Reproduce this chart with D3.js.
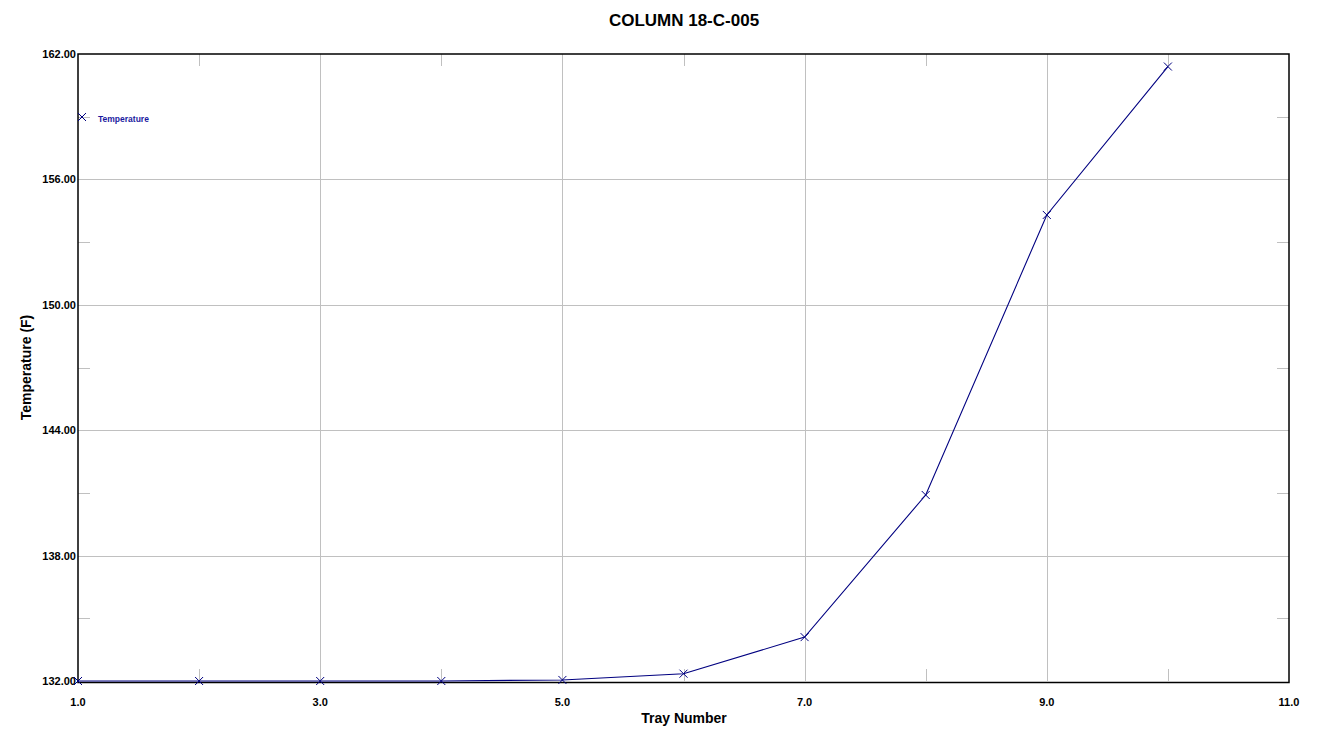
<!DOCTYPE html>
<html>
<head>
<meta charset="utf-8">
<script src="https://cdn.jsdelivr.net/npm/d3@7"></script>
<style>
  body { margin: 0; background: #fff; }
  text { font-family: Arial, "Liberation Sans", sans-serif; }
</style>
</head>
<body>
<script>
const width = 1337;
const height = 749;

// tray numbers and temperatures
const trays = [1, 2, 3, 4, 5, 6, 7, 8, 9, 10];
const temps = [132.0, 132.0, 132.0, 132.0, 132.05, 132.35, 134.1, 140.9, 154.3, 161.4];

const xMajor = [1, 3, 5, 7, 9, 11];
const xMinor = [2, 4, 6, 8, 10];
const yMajor = [132, 138, 144, 150, 156, 162];
const yMinor = [135, 141, 147, 153, 159];

const margin = {left: 78, right: 48, top: 54, bottom: 68};

const svg = d3.select("body").append("svg")
  .attr("width", width)
  .attr("height", height);

const x = d3.scaleLinear().domain([1, 11]).range([margin.left, width - margin.right]);
const y = d3.scaleLinear().domain([132, 162]).range([height - margin.bottom, margin.top]);

const grid = svg.append('g');
// full grid lines at the labelled ticks
grid.selectAll('.vgrid').data(xMajor.slice(1, -1)).enter().append('line')
  .attr('x1', d => Math.round(x(d)) + 0.5).attr('x2', d => Math.round(x(d)) + 0.5)
  .attr('y1', y(132)).attr('y2', y(162))
  .attr('stroke', '#c0c0c0');
grid.selectAll('.hgrid').data(yMajor.slice(1, -1)).enter().append('line')
  .attr('y1', d => Math.round(y(d)) + 0.5).attr('y2', d => Math.round(y(d)) + 0.5)
  .attr('x1', x(1)).attr('x2', x(11))
  .attr('stroke', '#c0c0c0');

// short minor ticks on each edge
const tick = 12;
xMinor.forEach(d => {
  const px = Math.round(x(d)) + 0.5;
  grid.append('line').attr('x1', px).attr('x2', px).attr('y1', y(132)).attr('y2', y(132) - tick).attr('stroke', '#c0c0c0');
  grid.append('line').attr('x1', px).attr('x2', px).attr('y1', y(162)).attr('y2', y(162) + tick).attr('stroke', '#c0c0c0');
});
yMinor.forEach(d => {
  const py = Math.round(y(d)) + 0.5;
  grid.append('line').attr('y1', py).attr('y2', py).attr('x1', x(1)).attr('x2', x(1) + tick).attr('stroke', '#c0c0c0');
  grid.append('line').attr('y1', py).attr('y2', py).attr('x1', x(11)).attr('x2', x(11) - tick).attr('stroke', '#c0c0c0');
});

// frame; its bottom edge sits just under the 132 line
svg.append('rect')
  .attr('x', x(1)).attr('y', y(162))
  .attr('width', x(11) - x(1)).attr('height', y(132) - y(162) + 1.5)
  .attr('fill', 'none').attr('stroke', '#000').attr('stroke-width', 1.5);

// tick labels
svg.selectAll('.xlab').data(xMajor).enter().append('text')
  .attr('x', d => x(d)).attr('y', y(132) + 25)
  .attr('text-anchor', 'middle')
  .attr('font-size', 11).attr('font-weight', 'bold')
  .text(d => d.toFixed(1));
svg.selectAll('.ylab').data(yMajor).enter().append('text')
  .attr('x', x(1) - 2).attr('y', d => y(d) + 4)
  .attr('text-anchor', 'end')
  .attr('font-size', 11).attr('font-weight', 'bold')
  .text(d => d.toFixed(2));

// titles
svg.append('text').attr('x', 684).attr('y', 26)
  .attr('text-anchor', 'middle').attr('font-size', 17).attr('font-weight', 'bold')
  .text('COLUMN 18-C-005');
svg.append('text').attr('x', 684).attr('y', 723)
  .attr('text-anchor', 'middle').attr('font-size', 14).attr('font-weight', 'bold')
  .text('Tray Number');
svg.append('text')
  .attr('transform', `translate(31, ${(y(132) + y(162)) / 2}) rotate(-90)`)
  .attr('text-anchor', 'middle').attr('font-size', 14).attr('font-weight', 'bold')
  .text('Temperature (F)');

// series
const color = '#000080';
const pts = trays.map((t, i) => [t, temps[i]]);
const line = d3.line().x(d => x(d[0])).y(d => y(d[1]));
svg.append('path').attr('d', line(pts))
  .attr('fill', 'none').attr('stroke', color).attr('stroke-width', 1.1);

const cross = (g, cx, cy, r) => g.append('path')
  .attr('d', `M${cx - r},${cy - r}L${cx + r},${cy + r}M${cx - r},${cy + r}L${cx + r},${cy - r}`)
  .attr('stroke', color).attr('stroke-width', 1).attr('fill', 'none');

const marks = svg.append('g');
pts.forEach(d => cross(marks, x(d[0]), y(d[1]), 4));

// legend
cross(svg, 82, 117, 4);
svg.append('text').attr('x', 98).attr('y', 122)
  .attr('font-size', 8.5).attr('font-weight', 'bold').attr('fill', '#1a1aa0')
  .text('Temperature');
</script>
</body>
</html>
